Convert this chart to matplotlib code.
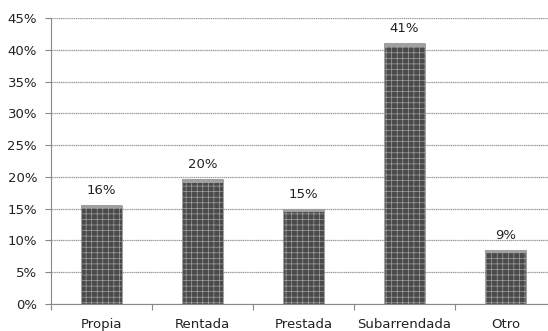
import numpy as np
import matplotlib
matplotlib.use("Agg")
import matplotlib.pyplot as plt

categories = ["Propia", "Rentada", "Prestada", "Subarrendada", "Otro"]
values = [15.6, 19.6, 14.9, 41.0, 8.5]
labels = ["16%", "20%", "15%", "41%", "9%"]
yticks = [0, 5, 10, 15, 20, 25, 30, 35, 40, 45]

plt.rcParams["hatch.color"] = "#7a7a7a"
plt.rcParams["hatch.linewidth"] = 0.5

fig = plt.figure(figsize=(5.48, 3.31), dpi=100)
ax = fig.add_axes([51 / 548, 27 / 331, 505 / 548, 286 / 331])

x = np.arange(len(categories))
bars = ax.bar(x, values, width=0.41, color="#4a4a4a", hatch="+++",
              edgecolor="#a0a0a0", linewidth=0.8, linestyle=":", zorder=3)
# lighter cap on bar tops
ax.bar(x, [0.5] * len(values), bottom=np.array(values) - 0.5, width=0.41,
       color="#a0a0a0", linewidth=0, zorder=4)

for xi, v, t in zip(x, values, labels):
    ax.annotate(t, (xi, v), xytext=(0, 6), textcoords="offset points",
                ha="center", va="bottom", fontsize=9.5, color="#222222")

ax.set_xlim(-0.5, len(categories) - 0.5)
ax.set_ylim(0, 45)
ax.set_yticks(yticks)
ax.set_yticklabels([f"{t}%" for t in yticks], fontsize=9.5, color="#222222")
ax.yaxis.grid(True, color="#999999", linewidth=0.9, linestyle=(0, (1, 0.5)), zorder=0)

ax.set_xticks(np.arange(len(categories) + 1) - 0.5)
ax.set_xticklabels([])
ax.set_xticks(x, minor=True)
ax.set_xticklabels(categories, minor=True, fontsize=9.5, color="#222222")
ax.tick_params(axis="x", which="major", length=4, color="#888888", direction="out")
ax.tick_params(axis="x", which="minor", length=0, pad=10)
ax.tick_params(axis="y", length=4, color="#888888", pad=6)

for s in ["top", "right"]:
    ax.spines[s].set_visible(False)
ax.spines["left"].set_color("#888888")
ax.spines["bottom"].set_color("#888888")

fig.savefig("out.png", dpi=100)
